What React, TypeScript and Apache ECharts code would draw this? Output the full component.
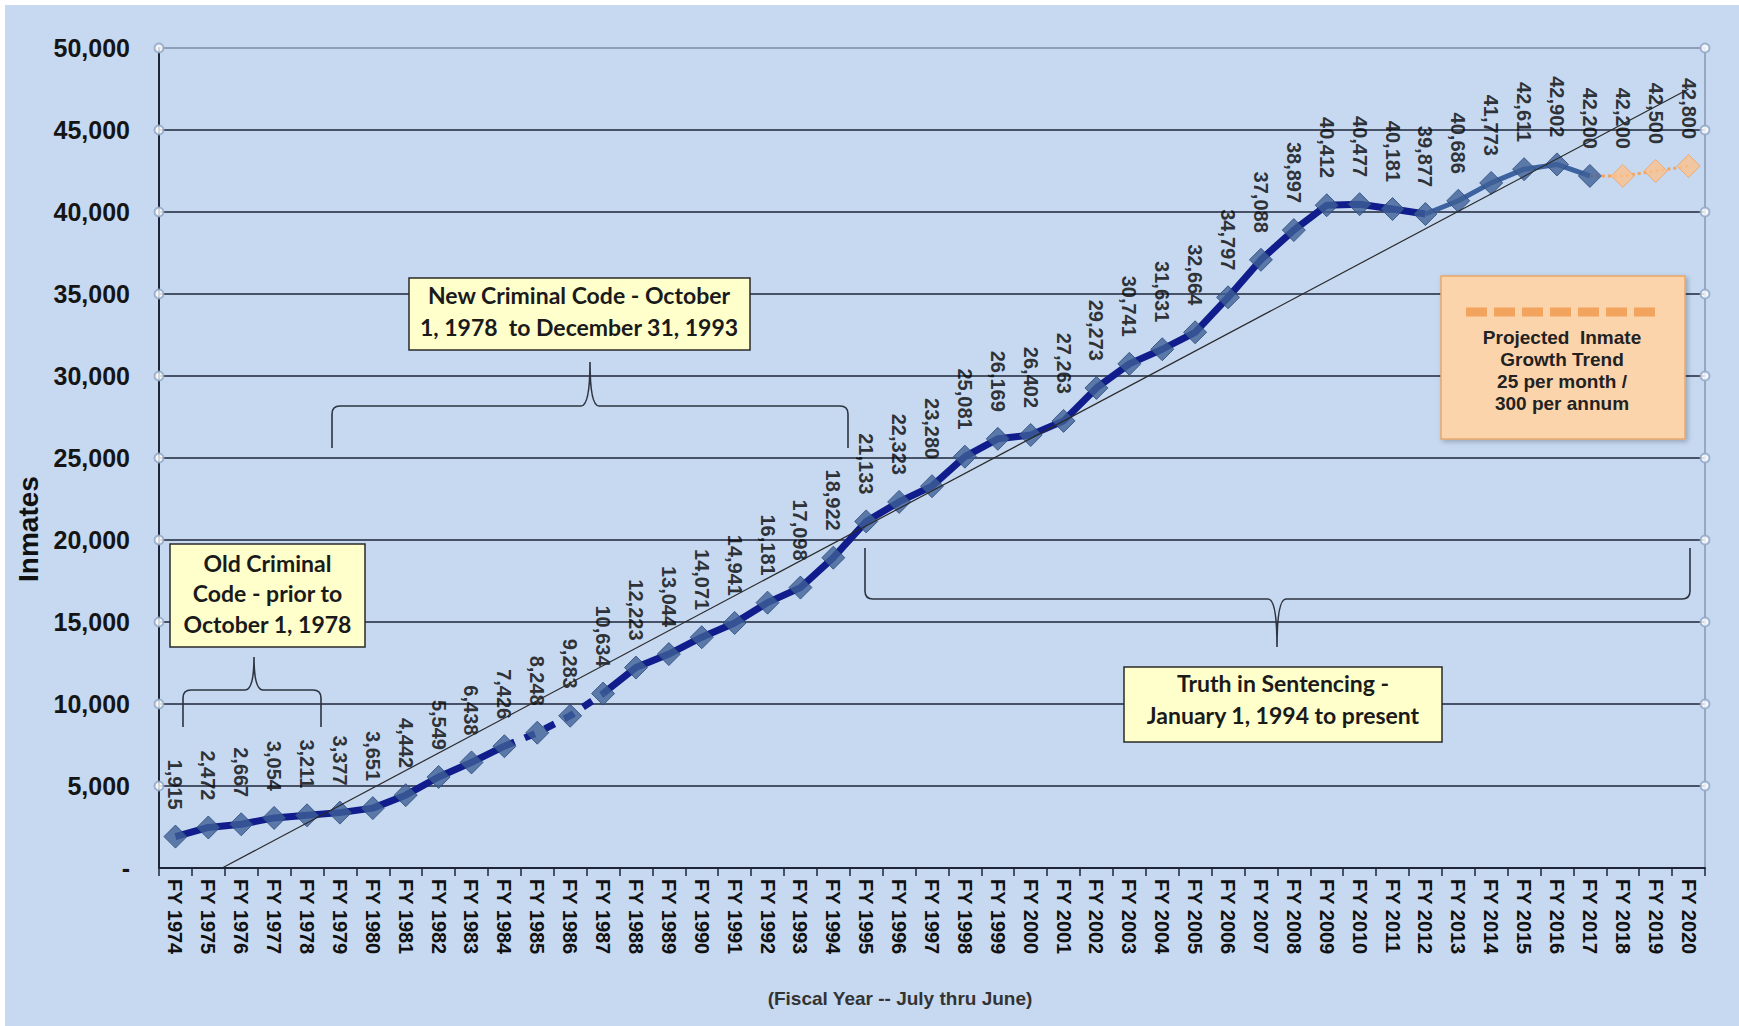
import React, { useEffect, useRef } from "react";
import * as echarts from "echarts";

// Fiscal years shown on the category axis
const fiscalYears = [
  1974, 1975, 1976, 1977, 1978, 1979, 1980, 1981, 1982, 1983, 1984, 1985,
  1986, 1987, 1988, 1989, 1990, 1991, 1992, 1993, 1994, 1995, 1996, 1997,
  1998, 1999, 2000, 2001, 2002, 2003, 2004, 2005, 2006, 2007, 2008, 2009,
  2010, 2011, 2012, 2013, 2014, 2015, 2016, 2017, 2018, 2019, 2020,
];

// Actual inmate population, FY1974 – FY2017
const inmates = [
  1915, 2472, 2667, 3054, 3211, 3377, 3651, 4442, 5549, 6438, 7426, 8248,
  9283, 10634, 12223, 13044, 14071, 14941, 16181, 17098, 18922, 21133, 22323,
  23280, 25081, 26169, 26402, 27263, 29273, 30741, 31631, 32664, 34797, 37088,
  38897, 40412, 40477, 40181, 39877, 40686, 41773, 42611, 42902, 42200,
];

// Projected population, FY2018 – FY2020
const projected = [42200, 42500, 42800];

// Value-axis ticks
const yTicks = [0, 5000, 10000, 15000, 20000, 25000, 30000, 35000, 40000, 45000, 50000];

// Linear growth trend: [category position, inmates]
const trendStart = [1.42, 0];
const trendEnd = [46, 47500];

// Index spans drawn with a different line style
const dashedSpan = [10, 13]; // FY1984 – FY1987
const lightSpan = [38, 43]; // FY2012 – FY2017

const BG = "#c6d9f1";
const GRID_DARK = "#1e2538";
const LABEL_FONT = "'Liberation Sans', Arial, Helvetica, sans-serif";
const CALLOUT_FONT = "Lato, 'Open Sans', sans-serif";

const fmt = (v: number) =>
  String(Math.round(v)).replace(/\B(?=(\d{3})+(?!\d))/g, ",");

// Curly brace outline: ends at yEnd, bar at yBar, point at (tipX, yTip)
function bracePath(
  x1: number,
  x2: number,
  tipX: number,
  yEnd: number,
  yBar: number,
  yTip: number,
  r = 8,
  c = 9
) {
  const d = Math.sign(yEnd - yBar);
  return [
    `M${x1} ${yEnd}`,
    `L${x1} ${yBar + d * r}`,
    `Q${x1} ${yBar} ${x1 + r} ${yBar}`,
    `L${tipX - c} ${yBar}`,
    `Q${tipX} ${yBar} ${tipX} ${yTip}`,
    `Q${tipX} ${yBar} ${tipX + c} ${yBar}`,
    `L${x2 - r} ${yBar}`,
    `Q${x2} ${yBar} ${x2} ${yBar + d * r}`,
    `L${x2} ${yEnd}`,
  ].join(" ");
}

const braces = [
  { name: "braceOld", d: bracePath(183, 321, 254, 727, 690, 657) },
  { name: "braceNew", d: bracePath(332, 848, 590, 448, 406, 362) },
  { name: "braceTruth", d: bracePath(865, 1690, 1277, 548, 599, 647) },
];
braces.forEach((b) =>
  echarts.graphic.registerShape(b.name, echarts.graphic.extendPath(b.d, {}) as any)
);

function buildOption(): any {
  const categories = fiscalYears.map((y) => `FY ${y}`);
  const last = inmates.length - 1;

  const solidLine = inmates.map((v, i) =>
    i <= dashedSpan[0] || (i >= dashedSpan[1] && i <= lightSpan[0]) ? v : null
  );
  const dashedLine = inmates.map((v, i) =>
    i >= dashedSpan[0] && i <= dashedSpan[1] ? v : null
  );
  const lightLine = inmates.map((v, i) =>
    i >= lightSpan[0] && i <= lightSpan[1] ? v : null
  );
  const projectionLine = fiscalYears.map((_, i) =>
    i === last ? inmates[last] : i > last ? projected[i - last - 1] : null
  );
  const projectedPoints = projected.map((v, i) => [inmates.length + i, v]);

  const axisCircles: number[][] = [];
  yTicks
    .filter((t) => t > 0)
    .forEach((t) => {
      axisCircles.push([-0.5, t]);
      axisCircles.push([fiscalYears.length - 0.5, t]);
    });

  const valueLabel = {
    show: true,
    position: "top",
    distance: 15,
    rotate: -90,
    align: "right",
    verticalAlign: "middle",
    fontSize: 20,
    fontWeight: "bold",
    fontFamily: LABEL_FONT,
    color: "#050505",
    formatter: (p: any) => fmt(Array.isArray(p.value) ? p.value[1] : p.value),
  };

  const splitColors = yTicks.map((_, i) =>
    i === yTicks.length - 1 ? "#7f8da6" : GRID_DARK
  );

  const yellowBox = (x: number, y: number, w: number, h: number) => ({
    type: "rect",
    shape: { x, y, width: w, height: h },
    style: { fill: "#ffffcb", stroke: "#2a2a2a", lineWidth: 1.5 },
    z: 10,
  });
  const calloutText = (x: number, y: number, text: string, lh: number) => ({
    type: "text",
    x,
    y,
    z: 11,
    style: {
      text,
      fontSize: 23,
      fontWeight: "bold",
      fontFamily: CALLOUT_FONT,
      fill: "#1a1a1a",
      align: "center",
      verticalAlign: "middle",
      lineHeight: lh,
    },
  });

  return {
    animation: false,
    backgroundColor: "transparent",
    grid: {
      left: 159,
      right: 34,
      top: 48,
      bottom: 158,
      containLabel: false,
      outerBoundsMode: "none",
    },
    xAxis: [
      {
        type: "category",
        data: categories,
        boundaryGap: true,
        axisLine: { show: true, onZero: false, lineStyle: { color: GRID_DARK, width: 2 } },
        axisTick: {
          show: true,
          alignWithLabel: false,
          length: 8,
          lineStyle: { color: GRID_DARK, width: 1.5 },
        },
        axisLabel: {
          interval: 0,
          rotate: -90,
          margin: 11,
          fontSize: 20,
          fontWeight: "bold",
          fontFamily: LABEL_FONT,
          color: "#111",
        },
        splitLine: { show: false },
      },
      {
        type: "value",
        min: -0.5,
        max: fiscalYears.length - 0.5,
        show: false,
      },
    ],
    yAxis: [
      {
        type: "value",
        min: 0,
        max: 50000,
        interval: 5000,
        position: "left",
        axisLine: { show: true, onZero: false, lineStyle: { color: GRID_DARK, width: 2 } },
        axisTick: { show: false },
        axisLabel: {
          margin: 29,
          fontSize: 25,
          fontWeight: "bold",
          fontFamily: LABEL_FONT,
          color: "#151515",
          formatter: (v: number) => (v === 0 ? "-" : fmt(v)),
        },
        splitLine: {
          show: true,
          lineStyle: { color: splitColors, width: 1.5 },
        },
      },
      {
        type: "value",
        min: 0,
        max: 50000,
        interval: 5000,
        position: "right",
        axisLine: { show: true, onZero: false, lineStyle: { color: "#8496b0", width: 1.5 } },
        axisTick: { show: false },
        axisLabel: { show: false },
        splitLine: { show: false },
      },
    ],
    series: [
      {
        name: "Inmates",
        type: "line",
        data: solidLine,
        symbol: "none",
        connectNulls: false,
        lineStyle: { color: "#111d8c", width: 7 },
        z: 3,
      },
      {
        name: "Inmates (dashed)",
        type: "line",
        data: dashedLine,
        symbol: "none",
        lineStyle: { color: "#111d8c", width: 7, type: [11, 11], cap: "butt" },
        z: 3,
      },
      {
        name: "Inmates (recent)",
        type: "line",
        data: lightLine,
        symbol: "none",
        lineStyle: { color: "#3d62a0", width: 5 },
        z: 3,
      },
      {
        name: "Projection",
        type: "line",
        data: projectionLine,
        symbol: "none",
        lineStyle: { color: "#f4a35c", width: 3, type: "dotted" },
        z: 3,
      },
      {
        name: "Trend",
        type: "line",
        xAxisIndex: 1,
        data: [trendStart, trendEnd],
        symbol: "none",
        lineStyle: { color: "#2a2a2a", width: 1.2 },
        z: 6,
      },
      {
        name: "Inmate markers",
        type: "scatter",
        data: inmates,
        symbol: "diamond",
        symbolSize: 23,
        itemStyle: { color: "#3e6097", borderColor: "#2b4878", borderWidth: 1 },
        label: valueLabel,
        z: 5,
      },
      {
        name: "Projected markers",
        type: "scatter",
        data: projectedPoints,
        symbol: "diamond",
        symbolSize: 23,
        itemStyle: { color: "#fbc28e", borderColor: "#f0a05a", borderWidth: 1 },
        label: valueLabel,
        z: 5,
      },
      {
        name: "Axis marks",
        type: "scatter",
        xAxisIndex: 1,
        data: axisCircles,
        symbol: "emptyCircle",
        symbolSize: 9,
        clip: false,
        silent: true,
        itemStyle: { color: "#8ea5c5", borderColor: "#8ea5c5", borderWidth: 1.3 },
        z: 4,
      },
    ],
    graphic: [
      // axis titles
      {
        type: "text",
        x: 28,
        y: 529,
        rotation: Math.PI / 2,
        style: {
          text: "Inmates",
          fontSize: 28,
          fontWeight: "bold",
          fontFamily: LABEL_FONT,
          fill: "#111",
          align: "center",
          verticalAlign: "middle",
        },
      },
      {
        type: "text",
        x: 900,
        y: 998,
        style: {
          text: "(Fiscal Year -- July thru June)",
          fontSize: 19,
          fontWeight: "bold",
          fontFamily: LABEL_FONT,
          fill: "#333",
          align: "center",
          verticalAlign: "middle",
        },
      },
      // braces
      ...braces.map((b) => ({
        type: b.name,
        x: 0,
        y: 0,
        z: 9,
        style: { fill: "none", stroke: "#2e3440", lineWidth: 1.6 },
      })),
      // legal-period callouts
      yellowBox(170, 544, 195, 103),
      calloutText(267.5, 593, "Old Criminal\nCode - prior to\nOctober 1, 1978", 30.5),
      yellowBox(409, 278, 341, 72),
      calloutText(579, 311, "New Criminal Code - October\n1, 1978  to December 31, 1993", 32),
      yellowBox(1124, 667, 318, 75),
      calloutText(1283, 699, "Truth in Sentencing -\nJanuary 1, 1994 to present", 32),
      // projection legend box
      {
        type: "rect",
        z: 10,
        shape: { x: 1441, y: 276, width: 244, height: 163 },
        style: {
          fill: "#fcd4ac",
          stroke: "#e8a868",
          lineWidth: 1.5,
          shadowBlur: 5,
          shadowOffsetX: 2,
          shadowOffsetY: 2,
          shadowColor: "rgba(0,0,0,0.25)",
        },
      },
      {
        type: "line",
        z: 11,
        shape: { x1: 1466, y1: 312, x2: 1658, y2: 312 },
        style: {
          stroke: "#f2a45e",
          lineWidth: 9,
          lineDash: [21, 7],
        },
      },
      {
        type: "text",
        x: 1562,
        y: 370,
        z: 11,
        style: {
          text: "Projected  Inmate\nGrowth Trend\n25 per month /\n300 per annum",
          fontSize: 19,
          fontWeight: "bold",
          fontFamily: LABEL_FONT,
          fill: "#222",
          align: "center",
          verticalAlign: "middle",
          lineHeight: 22,
        },
      },
    ],
  };
}

export default function App() {
  const ref = useRef<HTMLDivElement>(null);
  useEffect(() => {
    if (!ref.current) return;
    const chart = echarts.init(ref.current, null, { renderer: "svg" });
    chart.setOption(buildOption());
    return () => chart.dispose();
  }, []);
  return (
    <div
      style={{
        position: "fixed",
        left: 0,
        top: 0,
        width: 1739,
        height: 1026,
        background: "#ffffff",
        overflow: "hidden",
      }}
    >
      <div
        style={{ position: "absolute", left: 5, top: 5, right: 0, bottom: 0, background: BG }}
      />
      <div ref={ref} style={{ position: "absolute", left: 0, top: 0, width: 1739, height: 1026 }} />
    </div>
  );
}
